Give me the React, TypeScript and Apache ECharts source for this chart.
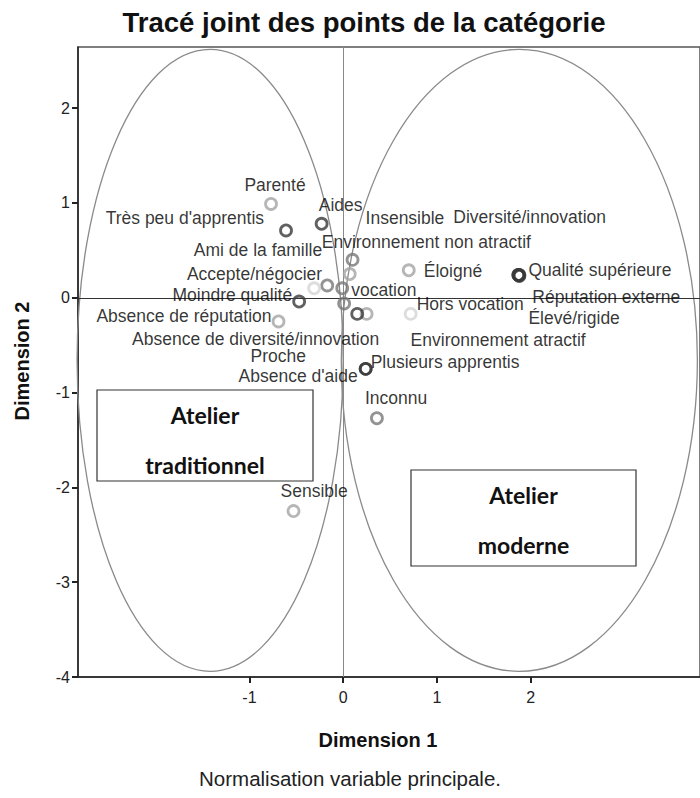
import React, { useEffect, useRef } from "react";
import * as echarts from "echarts";

// ---- data ----
const TITLE = "Tracé joint des points de la catégorie";
const X_NAME = "Dimension 1";
const Y_NAME = "Dimension 2";
const FOOTNOTE = "Normalisation variable principale.";
const X_TICKS = [-1, 0, 1, 2];
const Y_TICKS = [2, 1, 0, -1, -2, -3, -4];

const CATEGORIES = [
  "Parenté",
  "Très peu d'apprentis",
  "Aides",
  "Insensible",
  "Diversité/innovation",
  "Environnement non atractif",
  "Ami de la famille",
  "Accepte/négocier",
  "Éloigné",
  "Qualité supérieure",
  "Réputation externe",
  "Élevé/rigide",
  "Moindre qualité",
  "vocation",
  "Hors vocation",
  "Absence de réputation",
  "Absence de diversité/innovation",
  "Environnement atractif",
  "Proche",
  "Plusieurs apprentis",
  "Absence d'aide",
  "Inconnu",
  "Sensible",
];
const DIM1 = [-0.77, -0.61, -0.23, 0.1, 1.88, 0.07, -0.17, -0.31, 0.7, 1.87, 1.88, 1.87, -0.47, -0.01, 0.72, -0.69, 0.01, 0.25, 0.15, 0.24, 0.24, 0.36, -0.53];
const DIM2 = [0.99, 0.71, 0.78, 0.4, 0.24, 0.25, 0.13, 0.1, 0.29, 0.24, 0.23, 0.24, -0.04, 0.1, -0.17, -0.25, -0.06, -0.17, -0.17, -0.75, -0.75, -1.27, -2.25];
// variable (group) each category belongs to
const VARIABLE = [2, 0, 0, 1, 0, 2, 1, 3, 2, 0, 0, 0, 0, 1, 3, 2, 1, 2, 0, 0, 0, 1, 2];

// ellipses: [centre x, centre y, radius x, radius y]
const ELLIPSES = [
  [-1.42, -0.66, 1.42, 3.28],
  [1.88, -0.66, 1.9, 3.28],
];
const GROUP_BOXES = [
  ["Atelier", "traditionnel"],
  ["Atelier", "moderne"],
];

// ---- styles ----
const SHADES = ["#383838", "#787878", "#a4a4a4", "#d4d4d4"];
// [align, dx, dy] label placement per category
const LABEL_LAYOUT: [string, number, number][] = [
  ["center", 4, -19],
  ["right", -22, -12],
  ["center", 19, -19],
  ["left", 13, -42],
  ["left", -66, -58],
  ["left", -28, -32],
  ["right", -5, -35],
  ["right", 8, -14],
  ["left", 15, 1],
  ["left", 10, -5],
  ["left", 13, 21],
  ["left", 10, 43],
  ["right", -7, -7],
  ["left", 9, 2],
  ["left", 6, -10],
  ["right", -7, -5],
  ["right", 35, 36],
  ["left", 44, 26],
  ["center", -79, 42],
  ["left", 5, -7],
  ["right", -8, 7],
  ["left", -12, -20],
  ["left", -13, -20],
];
const FONT = "'Liberation Sans', Arial, sans-serif";
const BOX_FONT = "Lato, 'Open Sans', sans-serif";

export default function App() {
  const ref = useRef<HTMLDivElement>(null);
  useEffect(() => {
    if (!ref.current) return;
    const chart = echarts.init(ref.current, undefined, { renderer: "svg" });

    const points = CATEGORIES.map((name, i) => {
      const [align, dx, dy] = LABEL_LAYOUT[i];
      return {
        name,
        value: [DIM1[i], DIM2[i]],
        itemStyle: { color: "rgba(255,255,255,0)", borderColor: SHADES[VARIABLE[i]], borderWidth: 2.8 },
        label: {
          show: true,
          formatter: name,
          position: "inside",
          align,
          verticalAlign: "middle",
          offset: [dx, dy],
          color: "#000",
          textBorderWidth: 0,
          textBorderColor: "transparent",
          fontSize: 17.5,
          fontFamily: FONT,
        },
      };
    });

    const boxes: any[] = [];
    const boxRects = [
      { x: 97, y: 390, w: 216, h: 91 },
      { x: 411, y: 470, w: 225, h: 96 },
    ];
    GROUP_BOXES.forEach((lines, i) => {
      const b = boxRects[i];
      boxes.push({
        type: "rect",
        shape: { x: b.x, y: b.y, width: b.w, height: b.h },
        style: { fill: "#fff", stroke: "#333", lineWidth: 1.2 },
        z: 10,
      });
      lines.forEach((t, j) => {
        boxes.push({
          type: "text",
          x: b.x + b.w / 2,
          y: b.y + 25 + j * 50,
          style: { text: t, fill: "#111", font: `bold 23px ${BOX_FONT}`, textAlign: "center", textVerticalAlign: "middle" },
          z: 11,
        });
      });
    });

    chart.setOption({
      animation: false,
      backgroundColor: "#fff",
      grid: { left: 78, top: 47, width: 624, height: 630, show: true, borderColor: "#555", borderWidth: 1.5, containLabel: false },
      xAxis: {
        type: "value",
        min: -2.83,
        max: 3.808,
        axisLine: { show: true, onZero: false, lineStyle: { color: "#222", width: 1.5 } },
        axisTick: { show: true, length: 6, lineStyle: { color: "#222", width: 2 }, customValues: X_TICKS },
        axisLabel: { color: "#222", fontSize: 16, fontFamily: FONT, margin: 12, customValues: X_TICKS },
        splitLine: { show: false },
      },
      yAxis: {
        type: "value",
        min: -4,
        max: 2.645,
        axisLine: { show: true, onZero: false, lineStyle: { color: "#222", width: 1.5 } },
        axisTick: { show: true, length: 6, lineStyle: { color: "#222", width: 2 }, customValues: Y_TICKS },
        axisLabel: { color: "#222", fontSize: 16, fontFamily: FONT, margin: 8, customValues: Y_TICKS },
        splitLine: { show: false },
      },
      series: [
        {
          type: "custom",
          coordinateSystem: "cartesian2d",
          data: ELLIPSES,
          silent: true,
          z: 1,
          renderItem: (params: any, api: any) => {
            const c = api.coord([api.value(0), api.value(1)]);
            const e = api.coord([api.value(0) + api.value(2), api.value(1) + api.value(3)]);
            return {
              type: "ellipse",
              shape: { cx: c[0], cy: c[1], rx: Math.abs(e[0] - c[0]), ry: Math.abs(e[1] - c[1]) },
              style: { fill: "none", stroke: "#8a8a8a", lineWidth: 1.3 },
            };
          },
          encode: { x: 0, y: 1 },
        },
        {
          type: "scatter",
          symbol: "circle",
          symbolSize: 11,
          z: 5,
          data: points,
          markLine: {
            silent: true,
            symbol: "none",
            label: { show: false },
            data: [
              { xAxis: 0, lineStyle: { color: "#8a8a8a", width: 1, type: "solid" } },
              { yAxis: 0, lineStyle: { color: "#333", width: 1.2, type: "solid" } },
            ],
          },
        },
      ],
      graphic: [
        {
          type: "text",
          x: 364,
          y: 22,
          style: { text: TITLE, fill: "#111", font: `bold 27.5px ${FONT}`, textAlign: "center", textVerticalAlign: "middle" },
        },
        {
          type: "text",
          x: 378,
          y: 740,
          style: { text: X_NAME, fill: "#111", font: `bold 20px ${FONT}`, textAlign: "center", textVerticalAlign: "middle" },
        },
        {
          type: "text",
          x: 22,
          y: 361,
          rotation: Math.PI / 2,
          style: { text: Y_NAME, fill: "#111", font: `bold 20px ${FONT}`, textAlign: "center", textVerticalAlign: "middle" },
        },
        {
          type: "text",
          x: 350,
          y: 778,
          style: { text: FOOTNOTE, fill: "#222", font: `20.5px ${FONT}`, textAlign: "center", textVerticalAlign: "middle" },
        },
        ...boxes,
      ],
    });
    return () => chart.dispose();
  }, []);
  return <div ref={ref} style={{ position: "fixed", left: 0, top: 0, width: 700, height: 798 }} />;
}
